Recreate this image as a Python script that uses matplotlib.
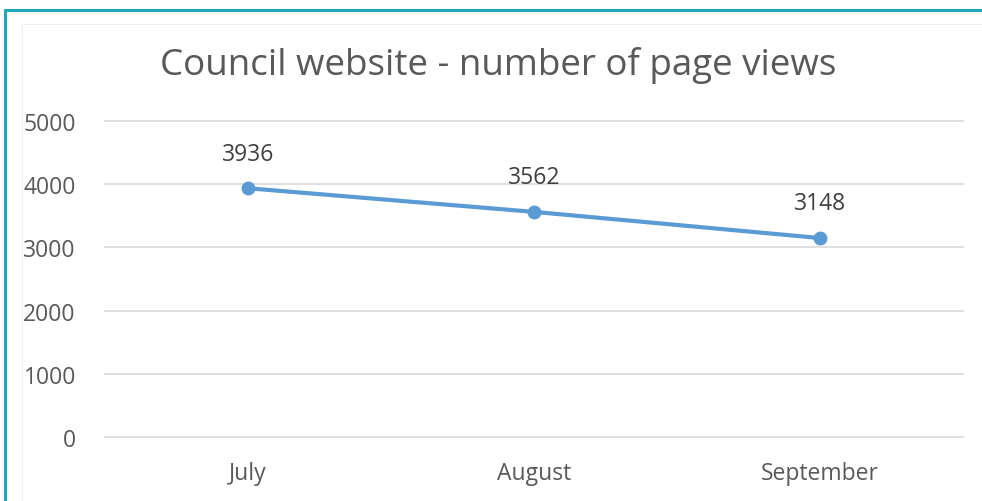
import matplotlib
matplotlib.use("Agg")
import matplotlib.pyplot as plt
from matplotlib.lines import Line2D

months = ["July", "August", "September"]
views = [3936, 3562, 3148]
yticks = [0, 1000, 2000, 3000, 4000, 5000]
title = "Council website - number of page views"

plt.rcParams['font.family'] = ['Open Sans', 'DejaVu Sans']

W, H = 982, 502
fig = plt.figure(figsize=(W / 100, H / 100), dpi=100)
fig.patch.set_facecolor("white")

# faint inner chart-area frame
fig.add_artist(Line2D([22 / W, 22 / W], [0, 1 - 25 / H], transform=fig.transFigure,
                      color="#f0f0f0", lw=0.8))
fig.add_artist(Line2D([22 / W, 1], [1 - 25 / H, 1 - 25 / H], transform=fig.transFigure,
                      color="#f0f0f0", lw=0.8))
# outer teal frame (top and left edges)
fig.add_artist(Line2D([4.5 / W, 4.5 / W], [0, 1 - 10 / H], transform=fig.transFigure,
                      color="#1fa9b8", lw=2.2, solid_capstyle="butt"))
fig.add_artist(Line2D([3.5 / W, 1], [1 - 10.5 / H, 1 - 10.5 / H], transform=fig.transFigure,
                      color="#1fa9b8", lw=2.2, solid_capstyle="butt"))

left, right = 105 / W, 963 / W
bottom, top = 1 - 438 / H, 1 - 122 / H
ax = fig.add_axes([left, bottom, right - left, top - bottom])
ax.set_facecolor("none")

x = list(range(len(months)))
ax.plot(x, views, color="#5b9bd5", lw=3.0, marker="o", markersize=9,
        solid_capstyle="round", zorder=3, clip_on=False)
for xi, v in zip(x, views):
    ax.annotate(str(v), (xi, v), xytext=(0, 25), textcoords="offset points",
                ha="center", va="center", fontsize=16.5, color="#404040")

ax.set_xlim(-0.5, len(months) - 0.5)
ax.set_ylim(0, 5000)
ax.set_yticks(yticks)
ax.set_yticklabels([str(t) for t in yticks])
ax.set_xticks(x)
ax.set_xticklabels(months)
ax.grid(axis="y", color="#d9d9d9", lw=1.2)
for gl in ax.yaxis.get_gridlines():
    gl.set_clip_on(False)
ax.set_axisbelow(True)
for s in ax.spines.values():
    s.set_visible(False)
ax.tick_params(axis="both", length=0, labelsize=16.5, labelcolor="#595959")
ax.tick_params(axis="y", pad=21)
ax.tick_params(axis="x", pad=17)

fig.text(160 / W, 1 - 65 / H, title, ha="left", va="center", fontsize=26.5,
         color="#595959")

fig.savefig("out.png", dpi=100)
